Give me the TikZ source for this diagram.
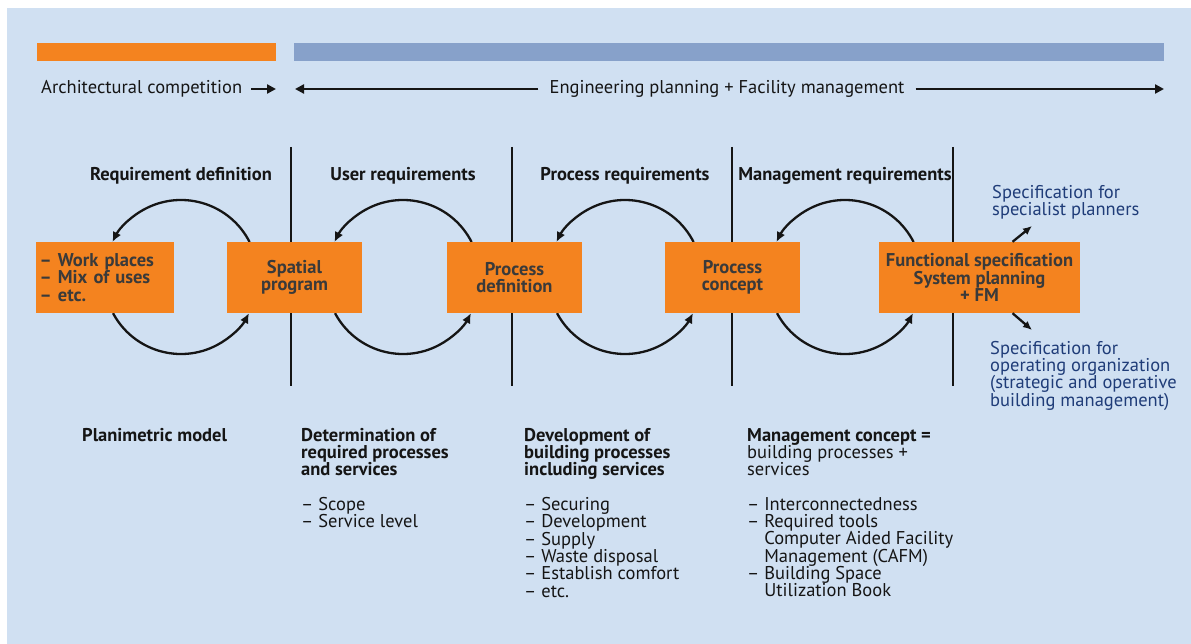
\documentclass[tikz,border=0pt]{standalone}
\usepackage{fontspec}
\setmainfont{PT Sans}
\usetikzlibrary{calc,arrows.meta}

\definecolor{bgblue}{HTML}{D0E0F2}
\definecolor{barorange}{HTML}{F4831F}
\definecolor{barblue}{HTML}{87A1CA}
\definecolor{boxtext}{HTML}{3A3A3A}
\definecolor{headtext}{HTML}{151515}
\definecolor{spectext}{HTML}{1F3C78}

\newcommand{\ind}{\phantom{-- }}

\begin{document}
\begin{tikzpicture}[x=1pt,y=-1pt,
  every node/.style={font=\fontsize{18.5}{17.3}\selectfont,text=headtext},
  procbox/.style={fill=barorange,text=boxtext,font=\fontsize{18.5}{17.5}\selectfont\bfseries,
    minimum width=135pt,minimum height=71pt,inner sep=0pt,align=center},
  headlbl/.style={font=\fontsize{18.5}{17.3}\selectfont\bfseries},
  spec/.style={text=spectext,align=left,inner sep=0pt,anchor=north west},
  notes/.style={align=left,inner sep=0pt,anchor=north west},
  cycarrow/.style={line width=2.3pt,draw=headtext,-{Latex[length=10pt,width=9pt]}},
  toparrow/.style={line width=2.6pt,draw=headtext,-{Triangle[length=9pt,width=9pt]}},
  divider/.style={line width=2.6pt,draw=headtext}]

  %% Canvas and background
  \useasboundingbox (0,0) rectangle (1191,644);
  \fill[bgblue] (7,8) rectangle (1191,644);

  %% Phase bars
  \fill[barorange] (37,43) rectangle (276,61);
  \fill[barblue]   (294,43) rectangle (1164,61);

  %% Phase labels with arrows
  \node[anchor=west,inner sep=0pt] (ARCH) at (41,89) {Architectural competition};
  \coordinate (ARCHEND) at (276,89);
  \draw[toparrow] ($(ARCH.east)+(9,0)$) -- (ARCHEND);

  \node[inner xsep=11pt,inner ysep=0pt] (ENG) at (727,89) {Engineering planning + Facility management};
  \coordinate (ENGL) at (295,89);
  \coordinate (ENGR) at (1164,89);
  \draw[toparrow] (ENG.west) -- (ENGL);
  \draw[toparrow] (ENG.east) -- (ENGR);

  %% Dividing lines between the stages
  \foreach \x in {291,512,732,953}
  {
    \draw[divider] (\x,147) -- (\x,386);
  }

  %% Cycles with their headings
  \foreach \i/\cx/\lbl in {1/181/Requirement definition,2/403/User requirements,
                           3/625/Process requirements,4/845/Management requirements}
  {
    \coordinate (CYC\i) at (\cx,277);
    \node[headlbl] (HEAD\i) at (\cx,176) {\lbl};
    \draw[cycarrow] ($(CYC\i)+(333:77)$) arc[start angle=333,end angle=207,radius=77];
    \draw[cycarrow] ($(CYC\i)+(152:77)$) arc[start angle=152,end angle=28,radius=77];
  }

  %% Stage boxes
  \node[procbox,text width=130pt,inner xsep=4pt,align=left] (BOX1) at (104.5,277.5)
    {-- Work places\\-- Mix of uses\\-- etc.};
  \node[procbox] (BOX2) at (294.5,277.5) {Spatial\\program};
  \node[procbox] (BOX3) at (514.5,277.5) {Process\\definition};
  \node[procbox] (BOX4) at (732.5,277.5) {Process\\concept};
  \node[procbox,minimum width=201pt] (BOX5) at (979.5,277.5)
    {Functional specification\\System planning\\+ FM};

  %% Outputs of the functional specification
  \coordinate (SPUP) at (1032,226);
  \coordinate (SPDN) at (1032,330);
  \draw[cycarrow,-{Latex[length=9pt,width=8pt]}] ($(BOX5.north)+(33,0)$) -- (SPUP);
  \draw[cycarrow,-{Latex[length=9pt,width=8pt]}] ($(BOX5.south)+(33,0)$) -- (SPDN);
  \node[spec] (SPEC1) at (992,185) {Specification for\\specialist planners};
  \node[spec] (SPEC2) at (990,341) {Specification for\\operating organization\\(strategic and operative\\building management)};

  %% Notes below each stage
  \node[notes] (NOTE1) at (82,428) {\textbf{Planimetric model}};
  \node[notes] (NOTE2) at (301,428) {\textbf{Determination of}\\\textbf{required processes}\\\textbf{and services}\\[17.3pt]
    -- Scope\\-- Service level};
  \node[notes] (NOTE3) at (524,428) {\textbf{Development of}\\\textbf{building processes}\\\textbf{including services}\\[17.3pt]
    -- Securing\\-- Development\\-- Supply\\-- Waste disposal\\-- Establish comfort\\-- etc.};
  \node[notes] (NOTE4) at (747,428) {\textbf{Management concept =}\\building processes +\\services\\[17.3pt]
    -- Interconnectedness\\-- Required tools\\\ind Computer Aided Facility\\\ind Management (CAFM)\\
    -- Building Space\\\ind Utilization Book};
\end{tikzpicture}
\end{document}
